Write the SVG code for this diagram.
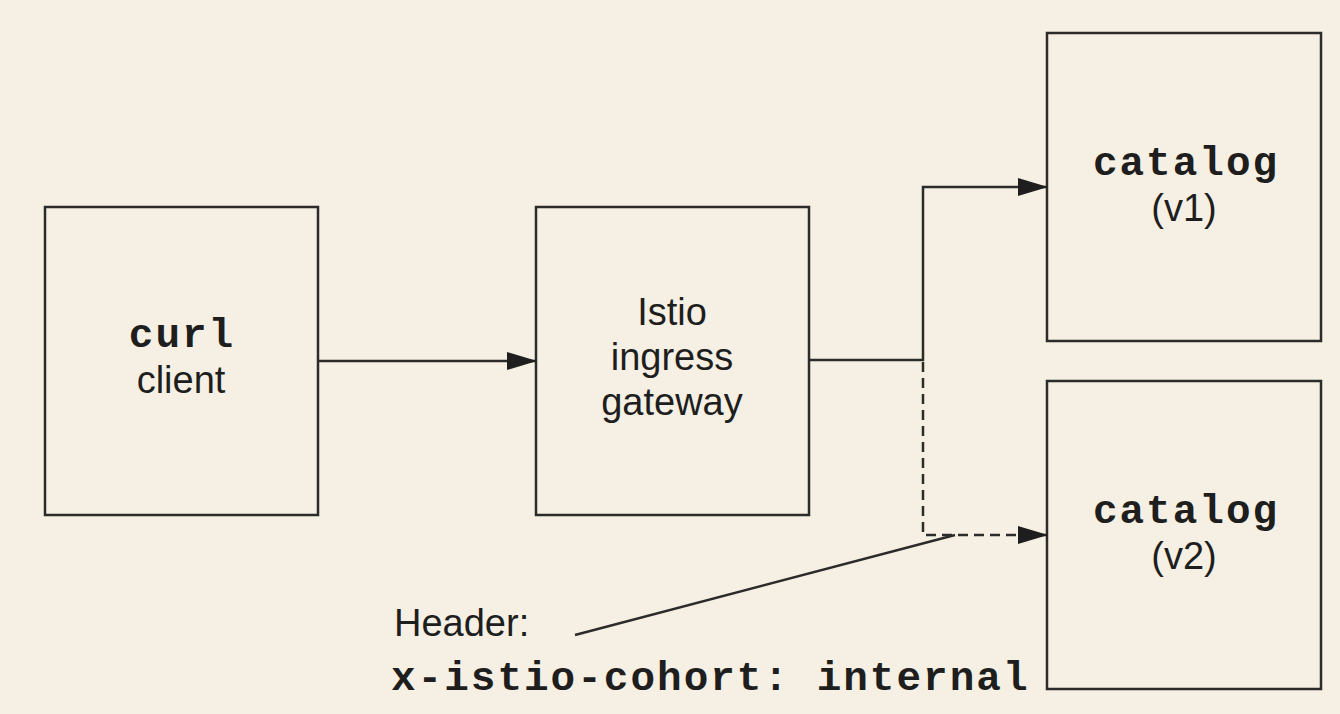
<svg xmlns="http://www.w3.org/2000/svg" width="1340" height="714" viewBox="0 0 1340 714">
<style>
.box{fill:none;stroke:#2b2b2b;stroke-width:2.5}
.ln{fill:none;stroke:#2b2b2b;stroke-width:2.5}
.dash{stroke-dasharray:10 6}
.sans{font-family:"Liberation Sans",Arial,sans-serif;font-size:38px;fill:#1e1e1e;text-anchor:middle}
.mono{font-family:"Liberation Mono","Courier New",monospace;font-size:41px;letter-spacing:2px;font-weight:bold;fill:#1e1e1e;text-anchor:middle}
</style>
<defs>
<marker id="arr" markerWidth="30" markerHeight="18" refX="29" refY="9" orient="auto" markerUnits="userSpaceOnUse">
<path d="M0,0 L30,9 L0,18 Z" fill="#1e1e1e"/>
</marker>
</defs>
<rect width="1340" height="714" fill="#f5f0e3"/>
<g id="curl-client">
<rect class="box" x="45" y="207" width="273" height="308"/>
<text class="mono" x="182" y="347">curl</text>
<text class="sans" x="181" y="393">client</text>
</g>
<g id="gateway">
<rect class="box" x="536" y="207" width="273" height="308"/>
<text class="sans" x="672" y="325">Istio</text>
<text class="sans" x="672" y="370">ingress</text>
<text class="sans" x="672" y="415">gateway</text>
</g>
<g id="catalog-v1">
<rect class="box" x="1047" y="33" width="274" height="308"/>
<text class="mono" x="1186" y="175">catalog</text>
<text class="sans" x="1184" y="221">(v1)</text>
</g>
<g id="catalog-v2">
<rect class="box" x="1047" y="381" width="274" height="308"/>
<text class="mono" x="1186" y="523">catalog</text>
<text class="sans" x="1184" y="569">(v2)</text>
</g>
<g id="connectors">
<line class="ln" x1="318" y1="361" x2="536" y2="361" marker-end="url(#arr)"/>
<polyline class="ln" points="809,360 923,360 923,187 1047,187" marker-end="url(#arr)"/>
<polyline class="ln dash" points="923,362 923,535 1047,535" marker-end="url(#arr)"/>
<line class="ln" x1="575" y1="635" x2="955" y2="535"/>
</g>
<g id="header-label">
<text class="sans" x="394" y="636" style="text-anchor:start">Header:</text>
<text class="mono" x="391" y="690" style="text-anchor:start">x-istio-cohort: internal</text>
</g>
</svg>
